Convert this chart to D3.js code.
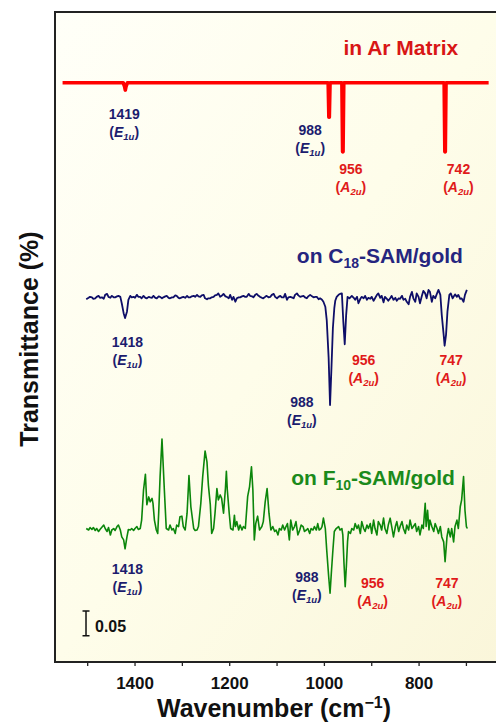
<!DOCTYPE html>
<html>
<head>
<meta charset="utf-8">
<script src="https://cdn.jsdelivr.net/npm/d3@7"></script>
<style>
  body { margin: 0; background: #fff; }
  text { font-family: "Liberation Sans", Arial, sans-serif; font-weight: bold; }
</style>
</head>
<body>
<div id="chart"></div>
<script>
// spectra: [wavenumber (cm-1), transmittance change]
var arMatrix = [[1552,0],[1424,0],[1421,-0.008],[1419.5,-0.015],[1418,-0.008],[1415,0],
  [991,0],[989.5,-0.07],[988.5,-0.07],[987,0],[962,0],[960.5,-0.14],[959.5,-0.14],[958,0],
  [746,0],[744.5,-0.14],[743.5,-0.14],[742,0],[652,0]];

var c18Spectrum = [[1502,-0.002],[1497,0.001],[1494,0.003],[1490,0.002],[1487,-0.001],[1483,0.000],[1480,0.003],[1476,0.005],[1473,0.001],[1469,0.002],
  [1465,-0.001],[1462,0.007],[1458,0.009],[1455,0.003],[1451,0.001],[1448,0.005],[1444,0.002],[1441,0.002],[1437,0.004],[1434,0.005],
  [1430,0.003],[1427,-0.010],[1423,-0.030],[1420,-0.040],[1416,-0.027],[1413,-0.003],[1409,0.005],[1406,0.002],[1402,0.003],[1399,0.001],
  [1395,0.007],[1392,0.003],[1388,0.003],[1385,0.000],[1381,0.005],[1377,0.001],[1374,0.000],[1370,0.003],[1367,0.002],[1363,0.001],
  [1360,0.005],[1356,0.001],[1353,0.000],[1349,0.004],[1346,0.003],[1342,0.000],[1339,0.002],[1335,0.004],[1332,0.005],[1328,0.001],
  [1325,0.000],[1321,0.002],[1318,0.002],[1314,0.006],[1311,0.005],[1307,0.001],[1304,0.000],[1300,0.002],[1297,0.003],[1293,0.001],
  [1289,0.005],[1286,0.002],[1282,0.002],[1279,0.004],[1275,0.005],[1272,0.003],[1268,0.007],[1265,0.004],[1261,0.003],[1258,0.006],
  [1254,0.007],[1251,0.000],[1247,-0.002],[1244,0.000],[1240,0.000],[1237,0.002],[1233,0.003],[1230,0.006],[1226,0.007],[1223,0.010],
  [1219,0.003],[1216,0.005],[1212,0.009],[1208,0.004],[1205,0.003],[1201,0.000],[1198,0.007],[1194,-0.003],[1191,0.003],[1187,-0.007],
  [1184,0.000],[1180,0.002],[1177,0.002],[1173,0.004],[1170,0.005],[1166,0.003],[1163,0.003],[1159,0.009],[1156,0.005],[1152,0.004],
  [1149,0.002],[1145,0.007],[1142,0.009],[1138,0.005],[1135,0.003],[1131,0.001],[1128,0.000],[1124,0.003],[1121,0.005],[1117,0.002],
  [1113,0.003],[1110,0.007],[1106,0.009],[1103,0.003],[1099,0.000],[1096,0.003],[1092,0.005],[1089,0.002],[1085,0.002],[1082,0.009],
  [1078,-0.003],[1075,0.002],[1071,0.003],[1068,0.002],[1064,0.000],[1061,0.007],[1057,0.010],[1054,0.006],[1050,0.003],[1047,0.004],
  [1043,0.005],[1040,0.002],[1036,0.000],[1033,0.004],[1029,0.007],[1025,0.004],[1022,0.002],[1018,0.003],[1015,0.003],[1011,-0.002],
  [1008,0.000],[1004,-0.003],[1001,-0.007],[997,-0.017],[994,-0.044],[990,-0.120],[987,-0.216],[984,-0.140],[981,-0.060],[978,-0.020],
  [976,-0.005],[973,0.003],[969,0.007],[966,0.009],[962,0.010],[959,-0.047],[956,-0.093],[953,-0.034],[950,0.003],[946,0.000],
  [941,0.005],[937,0.001],[934,-0.003],[930,0.003],[927,-0.010],[923,-0.001],[920,0.003],[916,0.000],[913,0.005],[909,-0.003],
  [906,0.001],[902,-0.001],[899,0.003],[895,-0.005],[892,0.000],[888,0.007],[885,0.010],[881,0.001],[878,0.005],[874,-0.008],
  [871,0.003],[867,-0.001],[864,-0.005],[860,0.000],[857,0.005],[853,-0.003],[849,0.001],[846,-0.005],[842,0.000],[839,-0.001],
  [835,0.005],[832,-0.003],[828,-0.001],[825,-0.007],[821,-0.012],[818,0.003],[814,0.013],[811,0.000],[807,-0.007],[804,0.010],
  [800,0.003],[797,-0.010],[793,0.005],[790,0.015],[786,0.010],[783,0.000],[779,0.017],[776,0.013],[772,-0.007],[769,0.005],
  [765,0.000],[761,0.010],[758,0.017],[754,0.007],[751,-0.034],[747,-0.074],[745,-0.096],[742,-0.074],[739,-0.027],[735,0.007],
  [732,0.010],[728,0.000],[723,0.008],[719,0.003],[716,0.007],[712,-0.001],[709,0.000],[705,-0.007],[702,0.007],[698,0.017]];

var f10Spectrum = [[1502,0.001],[1497,-0.002],[1494,0.003],[1490,-0.001],[1487,0.003],[1483,-0.003],[1480,0.001],[1476,-0.005],[1473,-0.001],[1465,0.008],
  [1462,0.001],[1458,-0.005],[1455,0.003],[1451,-0.012],[1448,-0.002],[1444,0.001],[1441,-0.003],[1437,0.005],[1434,0.008],[1430,-0.002],
  [1427,-0.016],[1423,-0.022],[1420,-0.040],[1416,-0.016],[1413,-0.001],[1409,-0.002],[1406,0.001],[1402,-0.003],[1399,0.001],[1395,0.005],
  [1392,-0.001],[1388,0.001],[1385,0.018],[1381,0.079],[1377,0.111],[1374,0.049],[1370,0.065],[1367,0.055],[1363,0.062],[1361,0.052],
  [1358,0.018],[1354,-0.002],[1351,-0.009],[1349,0.032],[1346,0.106],[1342,0.182],[1337,0.079],[1333,0.001],[1328,-0.002],[1325,0.008],
  [1321,-0.002],[1318,0.001],[1314,-0.009],[1311,0.008],[1307,0.005],[1304,0.025],[1300,0.026],[1297,0.005],[1293,-0.002],[1289,0.032],
  [1285,0.108],[1281,0.045],[1275,0.001],[1272,-0.003],[1268,-0.002],[1265,0.005],[1260,0.052],[1256,0.106],[1251,0.158],[1247,0.136],
  [1244,0.089],[1240,0.050],[1237,-0.009],[1233,0.001],[1230,0.032],[1226,0.082],[1223,0.059],[1219,0.069],[1216,0.062],[1212,0.032],
  [1208,0.082],[1206,0.117],[1204,0.079],[1200,0.032],[1197,0.001],[1192,-0.002],[1189,0.028],[1187,0.005],[1184,0.015],[1180,-0.002],
  [1177,0.008],[1173,-0.002],[1170,0.005],[1166,0.001],[1161,0.066],[1157,0.086],[1153,0.126],[1150,0.079],[1147,-0.022],[1144,0.011],
  [1140,0.026],[1136,-0.002],[1131,0.005],[1128,0.015],[1124,0.055],[1120,0.082],[1116,0.032],[1112,-0.002],[1108,0.005],[1104,-0.005],
  [1101,-0.002],[1097,-0.012],[1094,0.001],[1090,-0.002],[1087,0.008],[1083,-0.002],[1080,0.005],[1077,0.011],[1073,-0.022],[1070,0.018],
  [1066,-0.002],[1062,0.005],[1059,0.015],[1055,-0.012],[1051,-0.002],[1048,0.008],[1044,0.005],[1041,-0.005],[1037,-0.002],[1034,0.001],
  [1030,-0.009],[1027,0.001],[1023,-0.002],[1020,0.005],[1016,-0.002],[1013,0.011],[1010,-0.002],[1006,0.001],[1004,0.005],[1001,0.022],
  [997,0.001],[994,-0.043],[990,-0.095],[987,-0.130],[984,-0.085],[981,-0.043],[978,-0.005],[974,0.001],[969,0.005],[966,-0.002],
  [962,0.001],[960,-0.012],[957.5,-0.070],[955,-0.117],[952.5,-0.075],[950,-0.025],[948,-0.005],[944,-0.009],[941,0.001],[937,-0.002],
  [934,0.011],[930,0.001],[927,0.008],[923,-0.009],[920,0.015],[916,0.001],[913,-0.005],[909,0.008],[906,0.001],[902,0.011],
  [899,-0.009],[895,0.018],[892,0.001],[888,-0.012],[885,0.015],[881,0.008],[878,-0.002],[874,0.022],[871,0.001],[867,-0.009],
  [864,0.008],[860,0.022],[856,0.001],[853,-0.016],[849,0.005],[846,0.015],[842,-0.005],[839,0.005],[835,0.015],[832,0.001],
  [828,-0.009],[825,0.008],[821,-0.002],[818,0.018],[814,0.001],[811,0.005],[807,0.011],[804,-0.005],[800,0.005],[797,-0.012],
  [793,0.008],[790,0.001],[786,0.052],[784,0.005],[781,0.038],[778,-0.002],[776,0.018],[772,0.005],[768,-0.005],[765,0.011],
  [761,0.001],[758,-0.009],[754,0.005],[751,-0.016],[747,-0.026],[744,-0.066],[740,-0.016],[737,0.001],[733,-0.016],[730,0.001],
  [726,-0.026],[723,0.005],[719,0.018],[716,0.001],[712,0.045],[709,0.059],[705,0.106],[702,0.038],[699,0.005],[697,0.001]];

// vertical offset of each trace
var baselines = [1.1727, 0.7362, 0.2692];
var traceColors = ["#ff0000", "#0e0e68", "#0b860b"],
    traceWidths = [3.6, 1.8, 1.6];

var xTicks = [1500, 1400, 1300, 1200, 1100, 1000, 900, 800, 700];

// peak assignments: number, symmetry, subscript, position (wavenumber, level)
var peakLabels = [
  {num: "1419", sym: "E", sub: "1u", wn: 1421.8, lv: 1.0992},
  {num: "988",  sym: "E", sub: "1u", wn: 1028.9, lv: 1.0668},
  {num: "956",  sym: "A", sub: "2u", wn: 943,    lv: 0.9873},
  {num: "742",  sym: "A", sub: "2u", wn: 715.7,  lv: 0.9873},
  {num: "1418", sym: "E", sub: "1u", wn: 1415,   lv: 0.637},
  {num: "988",  sym: "E", sub: "1u", wn: 1046.5, lv: 0.5168},
  {num: "956",  sym: "A", sub: "2u", wn: 916,    lv: 0.6012},
  {num: "747",  sym: "A", sub: "2u", wn: 731.2,  lv: 0.6012},
  {num: "1418", sym: "E", sub: "1u", wn: 1415,   lv: 0.1781},
  {num: "988",  sym: "E", sub: "1u", wn: 1035.9, lv: 0.1626},
  {num: "956",  sym: "A", sub: "2u", wn: 897,    lv: 0.1492},
  {num: "747",  sym: "A", sub: "2u", wn: 740.2,  lv: 0.1492}
];

var titles = [
  {pre: "in Ar Matrix", sub: "", post: "", wn: 716.3, lv: 1.2281, color: "#d81616"},
  {pre: "on C", sub: "18", post: "-SAM/gold", wn: 706.4, lv: 0.8083, color: "#25257f"},
  {pre: "on F", sub: "10", post: "-SAM/gold", wn: 723.2, lv: 0.3583, color: "#1b8a1b"}
];

var svg_dx = 496, svg_dy = 722,
    margin = {top: 12, left: 55, bottom: 60},
    plotRight = 500,
    plotBottom = svg_dy - margin.bottom,
    pxPerUnit = 494;

var x = d3.scaleLinear().domain([1568, 628]).range([margin.left, plotRight]);
var y = d3.scaleLinear().domain([0, 1.3]).range([plotBottom, plotBottom - 1.3 * pxPerUnit]);

var svg = d3.select("#chart")
    .append("svg")
    .attr("width", svg_dx)
    .attr("height", svg_dy);

var grad = svg.append("defs").append("linearGradient")
    .attr("id", "bg")
    .attr("x1", 0).attr("y1", 0).attr("x2", 1).attr("y2", 1);
grad.append("stop").attr("offset", 0).attr("stop-color", "#fffff8");
grad.append("stop").attr("offset", 0.5).attr("stop-color", "#fefdea");
grad.append("stop").attr("offset", 1).attr("stop-color", "#faf6da");

svg.append("rect")
    .attr("x", margin.left)
    .attr("y", margin.top)
    .attr("width", plotRight - margin.left)
    .attr("height", plotBottom - margin.top)
    .style("fill", "url(#bg)");

// x axis
var xAxis = svg.append("g")
    .attr("transform", "translate(0," + plotBottom + ")")
    .call(d3.axisBottom(x)
        .tickValues(xTicks)
        .tickSize(4)
        .tickPadding(11)
        .tickFormat(d => d % 200 === 0 ? d : ""));
xAxis.select(".domain").remove();
xAxis.selectAll("line").style("stroke", "#222").style("stroke-width", 1.3);
xAxis.selectAll("text")
    .style("font-size", "17px")
    .style("font-family", "'Liberation Sans', Arial, sans-serif")
    .style("font-weight", "bold")
    .style("fill", "#111");

// frame (left, top, bottom)
svg.append("path")
    .attr("d", "M" + (plotRight + 2) + "," + margin.top + "H" + margin.left + "V" + plotBottom + "H" + (plotRight + 2))
    .style("fill", "none")
    .style("stroke", "#222")
    .style("stroke-width", 2);

// traces
[arMatrix, c18Spectrum, f10Spectrum].forEach(function(data, i) {
  var line = d3.line()
      .x(d => x(d[0]))
      .y(d => y(d[1] + baselines[i]));
  svg.append("path")
     .datum(data)
     .attr("d", line)
     .style("fill", "none")
     .style("stroke", traceColors[i])
     .style("stroke-width", traceWidths[i])
     .style("stroke-linejoin", "round");
});

// titles for each trace
titles.forEach(function(t) {
  var txt = svg.append("text")
      .attr("x", x(t.wn))
      .attr("y", y(t.lv))
      .attr("text-anchor", "end")
      .style("font-size", "21px")
      .style("fill", t.color);
  txt.append("tspan").text(t.pre);
  if (t.sub) {
    txt.append("tspan").attr("dy", 5).style("font-size", "14px").text(t.sub);
    txt.append("tspan").attr("dy", -5).text(t.post);
  }
});

// peak labels
peakLabels.forEach(function(p) {
  var col = p.sym === "E" ? "#1c1c6e" : "#e01a1a";
  var g = svg.append("g")
      .attr("transform", "translate(" + x(p.wn) + "," + y(p.lv) + ")")
      .style("fill", col);
  g.append("text")
   .attr("text-anchor", "middle")
   .style("font-size", "14px")
   .text(p.num);
  var s = g.append("text")
      .attr("y", 18)
      .attr("text-anchor", "middle")
      .style("font-size", "14px");
  s.append("tspan").text("(");
  s.append("tspan").style("font-style", "italic").text(p.sym);
  s.append("tspan").attr("dy", 3).style("font-style", "italic").style("font-size", "9.5px").text(p.sub);
  s.append("tspan").attr("dy", -3).text(")");
});

// scale bar 0.05
var barX = x(1502.5), barLo = y(0.053), barHi = y(0.103);
svg.append("path")
    .attr("d", "M" + (barX - 3.5) + "," + barHi + "H" + (barX + 3.5) +
               "M" + barX + "," + barHi + "V" + barLo +
               "M" + (barX - 3.5) + "," + barLo + "H" + (barX + 3.5))
    .style("fill", "none")
    .style("stroke", "#111")
    .style("stroke-width", 1.5);
svg.append("text")
    .attr("x", x(1483.5))
    .attr("y", y(0.0613))
    .style("font-size", "16px")
    .style("fill", "#111")
    .text("0.05");

// axis titles
var xt = svg.append("text")
    .attr("x", 274)
    .attr("y", 717)
    .attr("text-anchor", "middle")
    .style("font-size", "25px")
    .style("fill", "#111");
xt.append("tspan").text("Wavenumber (cm");
xt.append("tspan").attr("dy", -9).style("font-size", "16px").text("\u22121");
xt.append("tspan").attr("dy", 9).text(")");

svg.append("text")
    .attr("transform", "translate(38," + 339 + ") rotate(-90)")
    .attr("text-anchor", "middle")
    .style("font-size", "25px")
    .style("fill", "#111")
    .text("Transmittance (%)");
</script>
</body>
</html>
